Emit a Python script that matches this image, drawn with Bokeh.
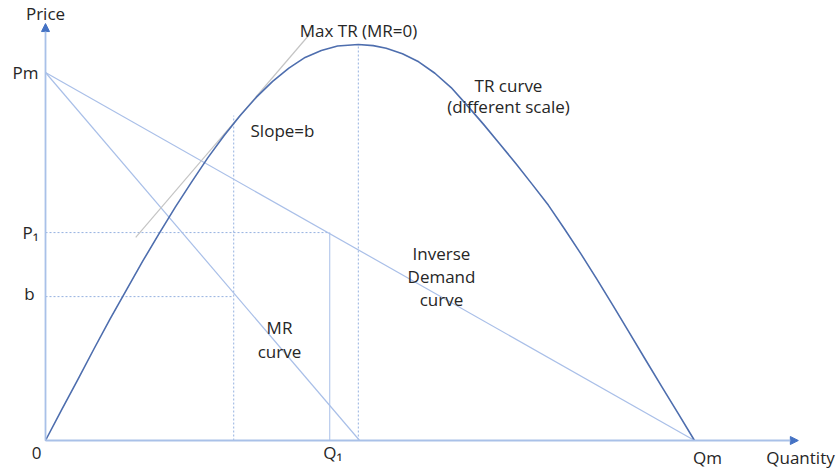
from bokeh.plotting import figure
from bokeh.models import Arrow, NormalHead, Label, Range1d
from bokeh.embed import file_html
from bokeh.resources import INLINE

# ---- data (quantity units: Qm = 100, price units: Pm = 100) ----
QM = 100.0          # max quantity (demand intercept)
PM = 100.0          # max price (demand intercept)
Q1 = 43.8           # output Q1
P1 = 56.5           # price P1
B = 39.1            # marginal revenue level b
Q_B = 29.0          # quantity where MR = b (tangent point)
Q_MR0 = 48.4        # quantity where MR = 0

demand_q = [0.0, QM]
demand_p = [PM, 0.0]
mr_q = [0.0, Q_MR0]
mr_p = [PM, 0.0]

# TR curve (different scale)
tr_q = [0.0, 2.5, 5.0, 7.5, 10.0, 12.5, 15.0, 17.5, 20.0, 22.5, 25.0, 27.5,
        30.0, 32.5, 35.0, 37.5, 40.0, 42.5, 45.0, 48.2, 50.5, 52.5, 55.0,
        57.5, 60.0, 62.5, 65.0, 67.5, 70.0, 72.5, 75.0, 77.5, 80.0, 82.5,
        85.0, 87.5, 90.0, 92.5, 95.0, 97.5, 100.0]
tr_v = [0.0, 8.4, 16.6, 25.0, 33.2, 41.0, 48.8, 56.2, 63.4, 70.2, 76.8, 82.8,
        88.3, 93.3, 97.6, 101.2, 104.1, 106.0, 107.2, 107.6, 107.3, 106.6, 105.1,
        102.9, 99.8, 95.9, 91.0, 85.9, 80.6, 75.2, 69.6, 63.9, 57.4, 50.7,
        43.7, 36.5, 29.2, 21.8, 14.5, 7.3, 0.0]
TR_AT_QB = 88.3
TR_MAX = 107.6
Q_TRMAX = 48.2

tangent_q = [13.9, 40.8]
tangent_v = [55.2, 110.6]

X_AXIS_END = 116.0
Y_AXIS_END = 113.3

# ---- styling ----
AXIS_C = "#A9C1E8"
HEAD_C = "#4472C4"
LINE_C = "#A9BFE8"
TR_C = "#4E6EAE"
DOT_C = "#95B1E0"
TAN_C = "#C4C4C4"
TXT_C = "#262626"
FONT = "Open Sans"

W, H = 837, 469
OX, OY = 45.0, 440.0      # pixel position of the origin
SX, SY = 6.49, 3.68       # pixels per data unit

p = figure(width=W, height=H,
           x_range=Range1d(-OX / SX, (W - OX) / SX),
           y_range=Range1d((OY - H) / SY, OY / SY),
           output_backend="svg", toolbar_location=None, min_border=0,
           x_axis_location=None, y_axis_location=None)
p.grid.visible = False
p.outline_line_color = None
p.background_fill_color = "white"
p.border_fill_color = "white"

# dotted guides
p.segment(x0=[Q_B, Q_TRMAX, 0.0, 0.0], y0=[0.0, 0.0, B, P1],
          x1=[Q_B, Q_TRMAX, Q_B, Q1], y1=[TR_AT_QB, TR_MAX, B, P1],
          line_color=DOT_C, line_width=1, line_dash="2 2")
# solid vertical at Q1
p.segment(x0=[Q1], y0=[0.0], x1=[Q1], y1=[P1], line_color=LINE_C, line_width=1)

# demand and MR
p.line(demand_q, demand_p, line_color=LINE_C, line_width=1.2)
p.line(mr_q, mr_p, line_color=LINE_C, line_width=1.2)

# tangent
p.line(tangent_q, tangent_v, line_color=TAN_C, line_width=1.2)

# TR curve
p.line(tr_q, tr_v, line_color=TR_C, line_width=1.6, line_join="round")

# axes with arrows
for (x0, y0, x1, y1) in [(0, 0, X_AXIS_END, 0), (0, 0, 0, Y_AXIS_END)]:
    p.add_layout(Arrow(x_start=x0, y_start=y0, x_end=x1, y_end=y1,
                       line_color=AXIS_C, line_width=1.8,
                       end=NormalHead(size=8, fill_color=HEAD_C, line_color=HEAD_C)))

def px(xpix):
    return (xpix - OX) / SX

def py(ypix):
    return (OY - ypix) / SY

def lab(x, y, t, size="17px"):
    p.add_layout(Label(x=x, y=y, text=t, text_align="center", text_baseline="middle",
                       text_font=FONT, text_font_size=size, text_color=TXT_C))

lab(0, py(13), "Price")
lab(px(25), PM, "Pm")
lab(px(30), P1, "P₁")
lab(px(29), py(293), "b")
lab(px(36), py(452), "0")
lab(Q1 + 3 / SX, py(452), "Q₁")
lab(px(707), py(457), "Qm")
lab(px(800), py(457), "Quantity")
lab(px(358), py(30), "Max TR (MR=0)")
lab(px(282), py(130), "Slope=b")
lab(px(508), py(85), "TR curve")
lab(px(508), py(106), "(different scale)")
lab(px(441), py(253), "Inverse")
lab(px(441), py(276), "Demand")
lab(px(441), py(299), "curve")
lab(px(279), py(327), "MR")
lab(px(279), py(351), "curve")

open("out.html", "w").write(file_html(p, INLINE))
